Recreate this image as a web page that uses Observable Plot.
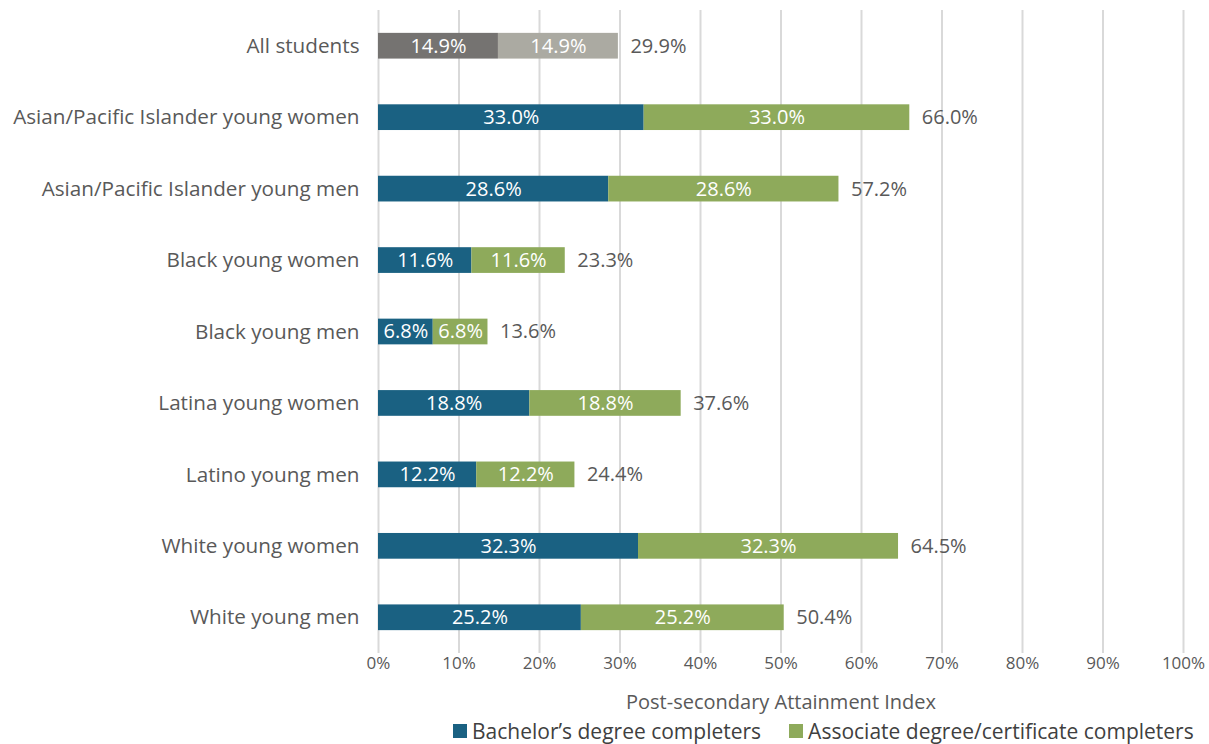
<!DOCTYPE html>
<html>
<head>
<meta charset="utf-8">
<script src="https://cdn.jsdelivr.net/npm/d3@7"></script>
<script src="https://cdn.jsdelivr.net/npm/@observablehq/plot@0.6"></script>
<style>
  html, body { margin: 0; padding: 0; background: #fff; }
  body { font-family: "Open Sans", sans-serif; width: 1209px; }
  #legend { display: flex; gap: 28px; padding-left: 453px; margin-top: 1px; font-size: 21px; color: #404040; align-items: center; }
  .item { display: flex; align-items: center; gap: 5px; }
  .sw { width: 14px; height: 14px; display: inline-block; }
</style>
</head>
<body>
<div id="chart"></div>
<div id="legend"></div>
<script>
const categories = [
  "All students",
  "Asian/Pacific Islander young women",
  "Asian/Pacific Islander young men",
  "Black young women",
  "Black young men",
  "Latina young women",
  "Latino young men",
  "White young women",
  "White young men"
];
const bachelors = [14.9, 33.0, 28.6, 11.6, 6.8, 18.8, 12.2, 32.3, 25.2];
const associates = [14.9, 33.0, 28.6, 11.6, 6.8, 18.8, 12.2, 32.3, 25.2];
const totals = [29.9, 66.0, 57.2, 23.3, 13.6, 37.6, 24.4, 64.5, 50.4];
const seriesNames = ["Bachelor’s degree completers", "Associate degree/certificate completers"];
const xTicks = [0, 10, 20, 30, 40, 50, 60, 70, 80, 90, 100];

const colors = { bach: "#1a6182", assoc: "#8eaa5b", bachAll: "#757371", assocAll: "#abaaa2" };

const segs = [];
categories.forEach((c, i) => {
  const all = i === 0;
  segs.push({ cat: c, x1: 0, x2: bachelors[i], v: bachelors[i], color: all ? colors.bachAll : colors.bach });
  segs.push({ cat: c, x1: bachelors[i], x2: bachelors[i] + associates[i], v: associates[i], color: all ? colors.assocAll : colors.assoc });
});
const tot = categories.map((c, i) => ({ cat: c, x: bachelors[i] + associates[i], v: totals[i] }));

const chart = Plot.plot({
  width: 1209,
  height: 716,
  marginLeft: 378,
  marginRight: 26,
  marginTop: 10,
  marginBottom: 63,
  style: { fontFamily: "'Open Sans', sans-serif", color: "#595959", background: "#fff" },
  x: { domain: [0, 100], ticks: xTicks, tickFormat: d => d + "%", label: null },
  y: { domain: categories, padding: 0.64, paddingOuter: 0.32, round: false, label: null },
  marks: [
    Plot.gridX(xTicks, { stroke: "#d9d9d9", strokeWidth: 2, strokeOpacity: 1 }),
    Plot.barX(segs, { y: "cat", x1: "x1", x2: "x2", fill: "color" }),
    Plot.text(segs, { y: "cat", x: d => (d.x1 + d.x2) / 2, text: d => d.v.toFixed(1) + "%", fill: "white", fontSize: 20 }),
    Plot.text(tot, { y: "cat", x: "x", text: d => d.v.toFixed(1) + "%", dx: 12, textAnchor: "start", fill: "#595959", fontSize: 20 }),
    Plot.axisX({ ticks: xTicks, tickFormat: d => d + "%", tickSize: 0, tickPadding: 3, fontSize: 17, fill: "#595959", label: null }),
    Plot.axisY({ tickSize: 0, tickPadding: 19, fontSize: 20.7, fill: "#595959", label: null }),
    Plot.text(["Post-secondary Attainment Index"], { frameAnchor: "bottom", dy: 55, fontSize: 20, fill: "#595959" })
  ]
});
document.getElementById("chart").appendChild(chart);

const leg = document.getElementById("legend");
[[seriesNames[0], colors.bach], [seriesNames[1], colors.assoc]].forEach(([n, c]) => {
  const it = document.createElement("div");
  it.className = "item";
  it.innerHTML = `<span class="sw" style="background:${c}"></span><span>${n}</span>`;
  leg.appendChild(it);
});
</script>
</body>
</html>
